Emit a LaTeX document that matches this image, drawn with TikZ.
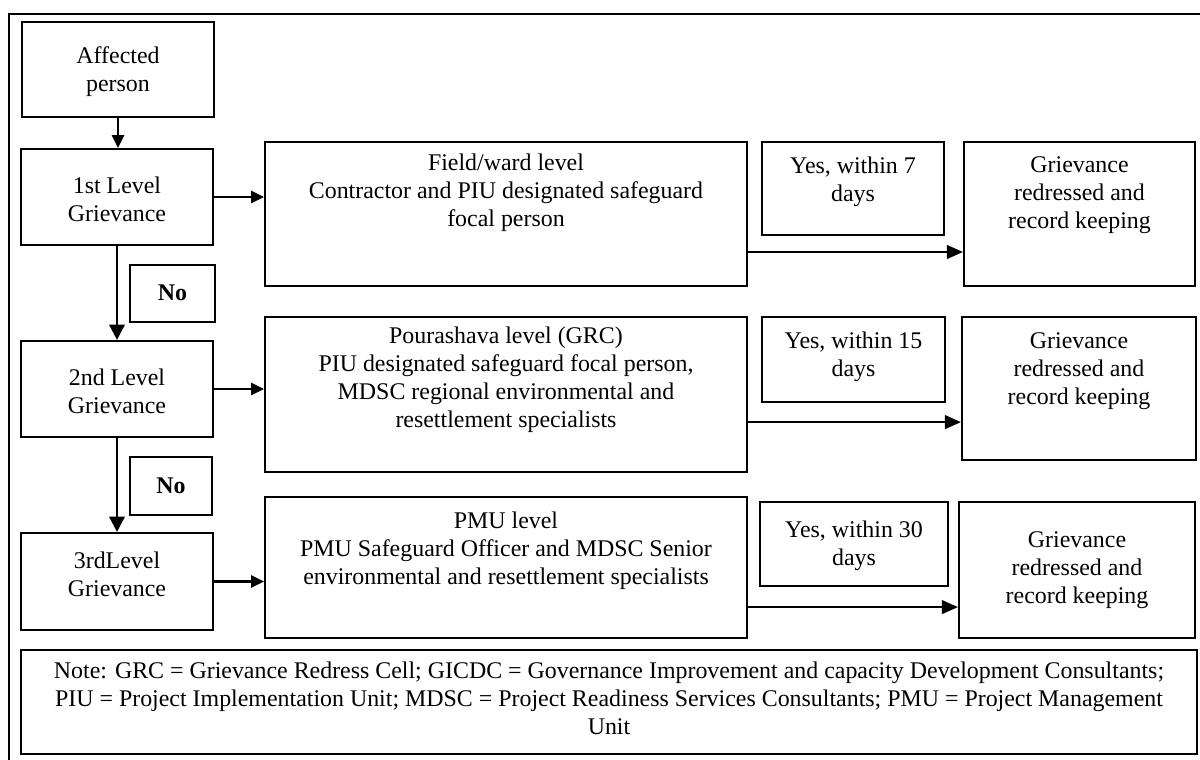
\documentclass[tikz,border=0pt]{standalone}
\usepackage{fontspec}
\setmainfont{Liberation Serif}
\usetikzlibrary{arrows.meta}

\tikzset{
  box/.style = {draw, line width=1.5pt, rectangle, inner sep=0pt},
  txt/.style = {align=center, inner sep=0pt, font=\fontsize{17}{20}\selectfont},
  frame/.style = {draw, line width=2pt},
  harr/.style = {line width=1.8pt, -{Triangle[length=0.32cm, width=0.3cm]}},
  varr/.style = {line width=1.8pt, -{Triangle[length=0.38cm, width=0.38cm]}},
  yarr/.style = {line width=1.5pt, -{Triangle[length=0.4cm, width=0.34cm]}}
}

\begin{document}
\begin{tikzpicture} [scale = 1]
\useasboundingbox (0, 0) rectangle (30, 19);
\draw[frame] (0.225, 18.65) rectangle (30.3, -0.3);

% left column
\node[box, minimum width=4.8cm, minimum height=2.375cm] (ap) at (2.95, 17.2625){};
\node[txt] (apt) at (2.95, 17.2){Affected\\person};
\node[box, minimum width=4.8cm, minimum height=2.4cm] (l1) at (2.925, 14.075){};
\node[txt] (l1t) at (2.925, 14.025){1st Level\\Grievance};
\node[box, minimum width=2.125cm, minimum height=1.425cm] (no1) at (4.3125, 11.6625){};
\node[txt, font=\fontsize{17}{20}\selectfont\bfseries] (no1t) at (4.3125, 11.675){No};
\node[box, minimum width=4.8cm, minimum height=2.4cm] (l2) at (2.925, 9.275){};
\node[txt] (l2t) at (2.925, 9.225){2nd Level\\Grievance};
\node[box, minimum width=2.05cm, minimum height=1.45cm] (no2) at (4.275, 6.85){};
\node[txt, font=\fontsize{17}{20}\selectfont\bfseries] (no2t) at (4.275, 6.85){No};
\node[box, minimum width=4.8cm, minimum height=2.425cm] (l3) at (2.925, 4.4625){};
\node[txt] (l3t) at (2.925, 4.65){3rdLevel\\Grievance};

% level boxes
\node[box, minimum width=12.05cm, minimum height=3.6cm] (f1) at (12.65, 13.65){};
\node[txt] (f1t) at (12.65, 14.175){Field/ward level\\Contractor and PIU designated safeguard\\focal person};
\node[box, minimum width=12.05cm, minimum height=3.875cm] (f2) at (12.65, 9.1375){};
\node[txt] (f2t) at (12.65, 9.5){Pourashava level (GRC)\\PIU designated safeguard focal person,\\MDSC regional environmental and\\resettlement specialists};
\node[box, minimum width=12.05cm, minimum height=3.525cm] (f3) at (12.65, 4.8125){};
\node[txt] (f3t) at (12.65, 5.225){PMU level\\PMU Safeguard Officer and MDSC Senior\\environmental and resettlement specialists};

% yes boxes
\node[box, minimum width=4.55cm, minimum height=2.325cm] (y1) at (21.325, 14.2875){};
\node[txt] (y1t) at (21.325, 14.45){Yes, within 7\\days};
\node[box, minimum width=4.575cm, minimum height=2.125cm] (y2) at (21.3375, 10.0125){};
\node[txt] (y2t) at (21.3375, 10.075){Yes, within 15\\days};
\node[box, minimum width=4.7cm, minimum height=2.1cm] (y3) at (21.35, 5.4){};
\node[txt] (y3t) at (21.35, 5.35){Yes, within 30\\days};

% outcome boxes
\node[box, minimum width=5.775cm, minimum height=3.6cm] (g1) at (26.9875, 13.65){};
\node[txt] (g1t) at (26.9875, 14.125){Grievance\\redressed and\\record keeping};
\node[box, minimum width=5.85cm, minimum height=3.575cm] (g2) at (26.975, 9.2875){};
\node[txt] (g2t) at (26.975, 9.725){Grievance\\redressed and\\record keeping};
\node[box, minimum width=5.9cm, minimum height=3.4cm] (g3) at (26.925, 4.75){};
\node[txt] (g3t) at (26.925, 4.75){Grievance\\redressed and\\record keeping};

% note
\node[box, minimum width=29.4cm, minimum height=2.6cm] (note) at (15.225, 1.45){};
\node[txt] (notet) at (15.225, 1.55){Note: GRC = Grievance Redress Cell; GICDC = Governance Improvement and capacity Development Consultants;\\PIU = Project Implementation Unit; MDSC = Project Readiness Services Consultants; PMU = Project Management\\Unit};

% connectors
\draw[harr] (ap.south) -- (ap.south |- l1.north);
\draw[varr] (l1.south) -- (l2.north);
\draw[varr] (l2.south) -- (l3.north);
\draw[harr] (l1.east) -- (l1.east -| f1.west);
\draw[harr] (l2.east) -- (l2.east -| f2.west);
\draw[harr] (l3.east) -- (l3.east -| f3.west);
\draw[yarr] ([yshift=-0.95cm]f1.east) -- ([yshift=-0.95cm]f1.east -| g1.west);
\draw[yarr] ([yshift=-0.69cm]f2.east) -- ([yshift=-0.69cm]f2.east -| g2.west);
\draw[yarr] ([yshift=-0.99cm]f3.east) -- ([yshift=-0.99cm]f3.east -| g3.west);
\end{tikzpicture}
\end{document}
